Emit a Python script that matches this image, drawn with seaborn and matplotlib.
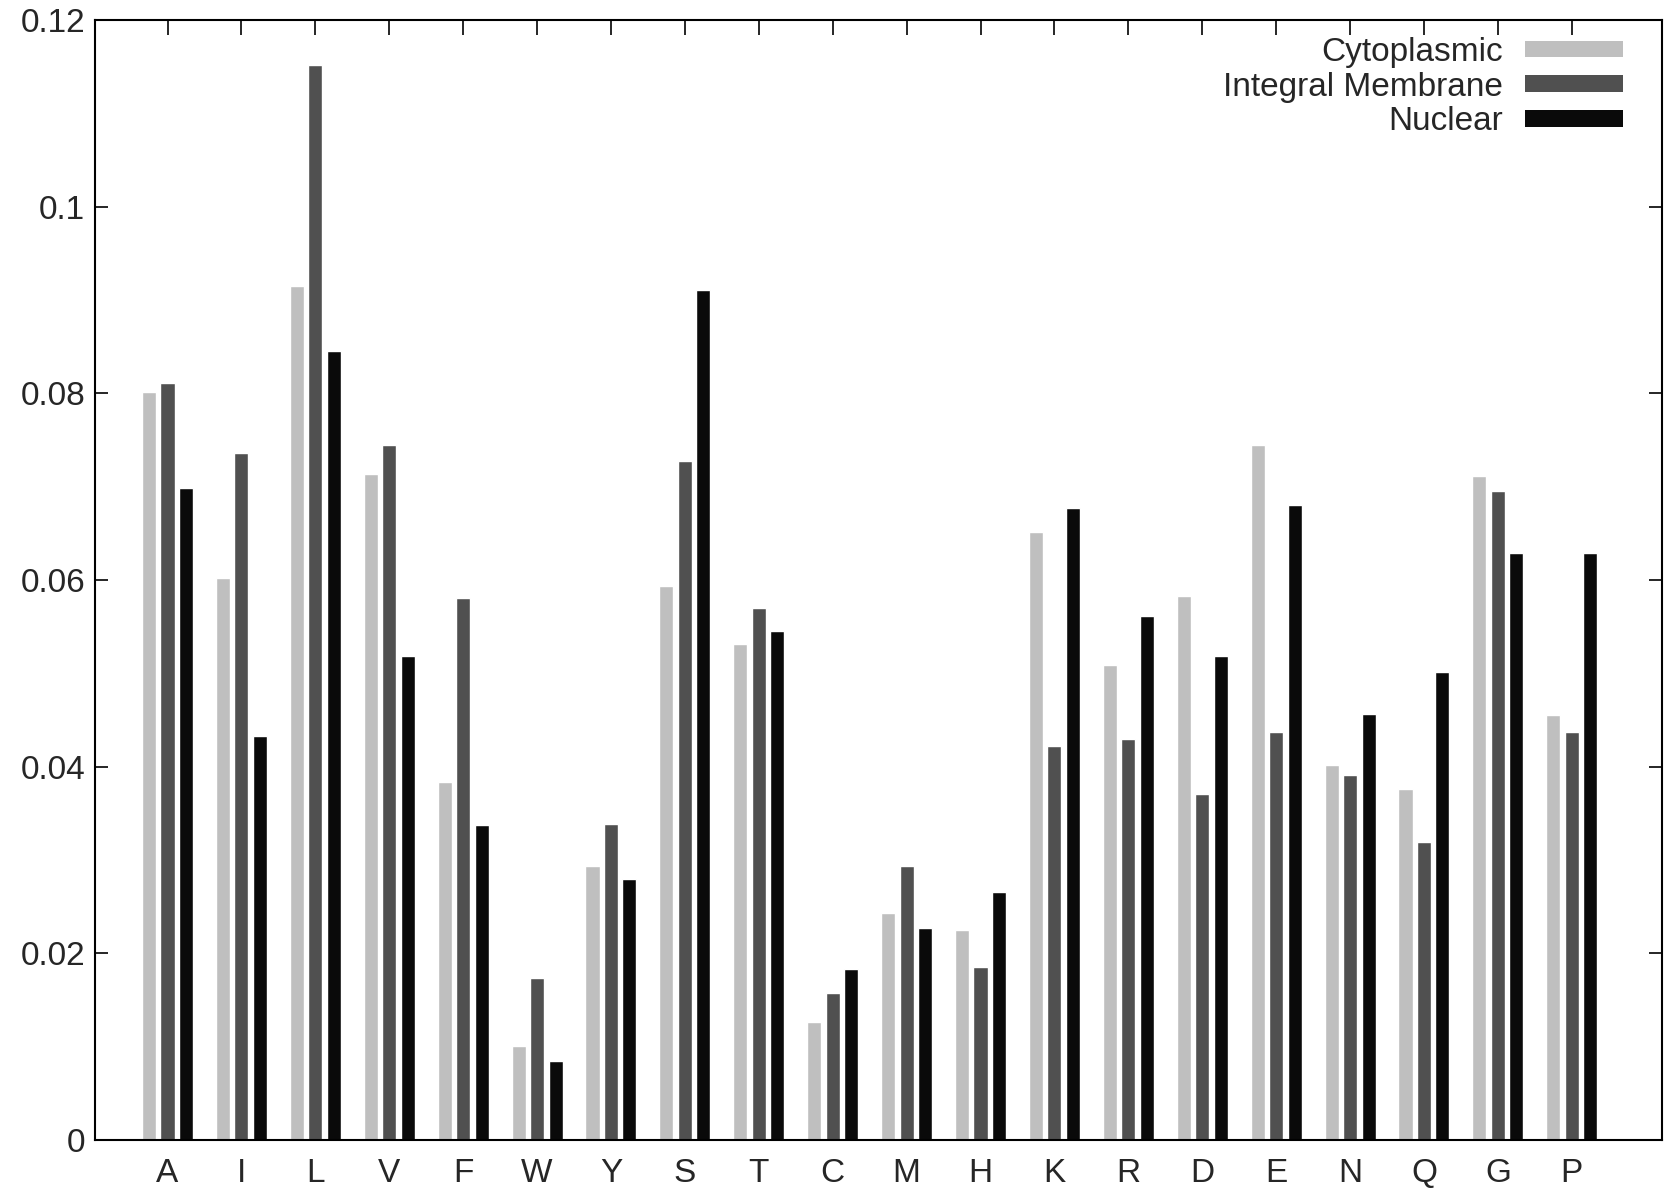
import pandas as pd
import numpy as np
import matplotlib.pyplot as plt
import seaborn as sns
from matplotlib.patches import Patch
from matplotlib.ticker import FuncFormatter

amino = ["A", "I", "L", "V", "F", "W", "Y", "S", "T", "C",
         "M", "H", "K", "R", "D", "E", "N", "Q", "G", "P"]
cytoplasmic = [0.0801, 0.0602, 0.0915, 0.0714, 0.0384, 0.0101, 0.0294, 0.0594, 0.0531, 0.0127,
               0.0243, 0.0225, 0.0651, 0.0509, 0.0583, 0.0745, 0.0402, 0.0376, 0.0711, 0.0455]
membrane = [0.0811, 0.0736, 0.1152, 0.0745, 0.0581, 0.0174, 0.0339, 0.0728, 0.0570, 0.0158,
            0.0294, 0.0185, 0.0422, 0.0430, 0.0371, 0.0437, 0.0391, 0.0319, 0.0695, 0.0437]
nuclear = [0.0699, 0.0433, 0.0845, 0.0519, 0.0338, 0.0085, 0.0280, 0.0911, 0.0545, 0.0183,
           0.0227, 0.0266, 0.0677, 0.0562, 0.0519, 0.0680, 0.0456, 0.0501, 0.0629, 0.0629]
groups = ["Cytoplasmic", "Integral Membrane", "Nuclear"]
colors = ["#bfbfbf", "#505050", "#0a0a0a"]

df = pd.DataFrame({"aa": amino * 3,
                   "value": cytoplasmic + membrane + nuclear,
                   "loc": np.repeat(groups, len(amino))})

sns.set_style("white")
plt.rcParams["font.family"] = ["Liberation Sans", "DejaVu Sans"]

fig, ax = plt.subplots(figsize=(16.74, 11.94), dpi=100)
plt.subplots_adjust(left=0.0568, right=0.9928, bottom=0.0452, top=0.9832)

sns.barplot(data=df, x="aa", y="value", hue="loc", hue_order=groups,
            palette=colors, width=0.75, gap=0.24, saturation=1,
            legend=False, ax=ax)

ax.set_xlim(-0.98, 20.22)
ax.set_ylim(0, 0.12)
ax.set_yticks(np.arange(0, 0.121, 0.02))
ax.yaxis.set_major_formatter(FuncFormatter(lambda v, p: "%g" % round(v, 4)))
ax.set_xlabel("")
ax.set_ylabel("")

for s in ax.spines.values():
    s.set_linewidth(1.5)
    s.set_color("black")
    s.set_visible(True)

# gnuplot look: inward ticks, mirrored on the right / top
ax.tick_params(axis="y", direction="in", left=True, right=True, length=9.5,
               width=1.4, labelsize=24, pad=7)
ax.tick_params(axis="x", direction="in", top=True, bottom=False, length=10.5,
               width=1.4, labelsize=24, pad=13)

handles = [Patch(facecolor=c, edgecolor="none") for c in colors]
ax.legend(handles, groups, loc="upper right", bbox_to_anchor=(0.975, 0.985),
          frameon=False, markerfirst=False, fontsize=24, handlelength=2.94,
          handleheight=0.39, handletextpad=0.66, labelspacing=0.11,
          borderpad=0, borderaxespad=0)

plt.savefig("out.png", dpi=100)
